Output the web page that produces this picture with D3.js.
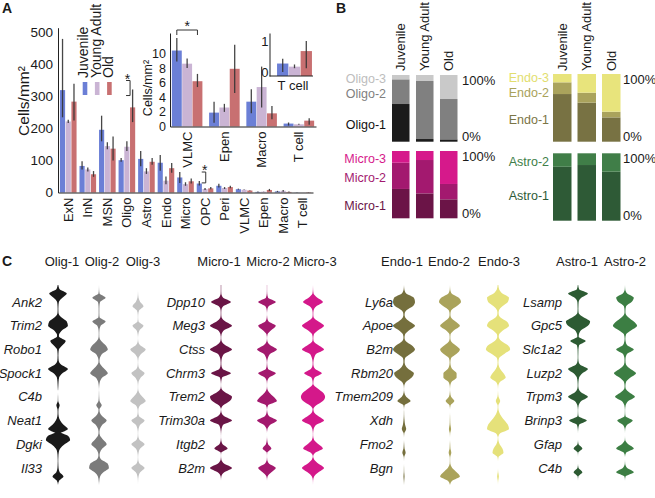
<!DOCTYPE html>
<html><head><meta charset="utf-8">
<script src="https://cdn.jsdelivr.net/npm/d3@7/dist/d3.min.js"></script>
<style>
html,body{margin:0;padding:0;background:#fff;}
svg{display:block;font-family:"Liberation Sans",Arial,Helvetica,sans-serif;}
</style></head><body>
<svg id="fig" width="655" height="498"></svg>
<script>
// ================= DATA =================
// Panel A
const ageGroups = ["Juvenile", "Young Adult", "Old"];
const cellTypes = ["ExN","InN","MSN","Oligo","Astro","Endo","Micro","OPC","Peri","VLMC","Epen","Macro","T cell"];
const juvenileMean = [320, 83, 196, 101, 105, 93, 47, 28, 21, 10.4, 1.9, 3.4, 0.4];
const youngMean    = [222, 72, 145, 143, 66, 37, 26, 11, 14, 8.6, 2.6, 5.4, 0.3];
const oldMean      = [284, 57, 137, 266, 96, 76, 35, 13, 17, 6.2, 7.9, 1.8, 0.8];
const juvenileErr = [[235,480],[72,98],[160,240],[96,108],[82,130],[68,117],[30,64],[22,36],[16,27],[8.9,12.1],[0.5,3.4],[1.8,5.1],[0.13,0.55]];
const youngErr    = [[217,227],[66,78],[135,157],[130,160],[58,76],[26,50],[21,32],[8,14],[11,17],[8,9.3],[2,3.1],[2.6,8.2],[0.25,0.37]];
const oldErr      = [[225,340],[49,67],[100,175],[220,322],[87,108],[62,92],[28,44],[10,17],[13,21],[5.4,7.2],[4.6,11.2],[1,2.8],[0.25,1.12]];
const mainTicks  = [0,100,200,300,400,500];
const insetTypes = ["VLMC","Epen","Macro","T cell"];
const insetTicks = [0,2,4,6,8,10];
const tcellTicks = [0,1];

// Panel B (shares in %, per age group: Juvenile, Young Adult, Old)
const stackAges   = ["Juvenile","Young Adult","Old"];
const oligoTypes  = ["Oligo-1","Oligo-2","Oligo-3"];
const oligoShares = [[56.5,37,6.5],[4,87,9],[3.5,60.5,36]];
const microTypes  = ["Micro-1","Micro-2","Micro-3"];
const microShares = [[43.6,39,17.4],[37,49.6,13.4],[28.2,22.8,49]];
const endoTypes   = ["Endo-1","Endo-2","Endo-3"];
const endoShares  = [[70.4,17.3,12.3],[57.6,14.8,27.6],[35.9,8.4,55.7]];
const astroTypes  = ["Astro-1","Astro-2"];
const astroShares = [[80,20],[82.6,17.4],[72.7,27.3]];

// Panel C (violin density profiles, top -> bottom, 9 samples each)
const oligClusters = ["Olig-1","Olig-2","Olig-3"];
const oligGenes = ["Ank2","Trim2","Robo1","Spock1","C4b","Neat1","Dgki","Il33"];
const olig1Density = [
 [0.3,1.5,8,4,0.8,0.4,0.3,0.2,0.1],
 [0,0.3,3,8,9,4,1,0.3,0],
 [0.2,1,7,4,0.8,0.4,0.3,0.2,0.1],
 [0.1,0.5,3,9,4,1,0.5,0.3,0.1],
 [0,0,0,0,0.1,0.2,1.5,0.3,0],
 [0.1,0.2,0.3,0.6,2,5,9,2,0],
 [0,0.5,9,11,6,2,0.6,0.2,0],
 [0.1,0.15,0.2,0.3,0.5,1.5,5,1,0]];
const olig2Density = [
 [0,0.1,0.5,6,1,0.4,0.3,0.2,0.1],
 [0,0.1,0.5,6,1.5,0.4,0.2,0.1,0],
 [0,0.2,2,6,8,3,0.8,0.2,0],
 [0,0.1,1.5,5,8,3,0.8,0.2,0],
 [0,0,0,0.1,0.2,0.5,2.5,0.2,0],
 [0,0.2,0.6,3,7,3,0.8,0.2,0],
 [0,0.1,1,4,7,3,0.8,0.2,0],
 [0,0.3,2,8,9,4,1,0.3,0]];
const olig3Density = [
 [0,0,0.1,0.5,2,5,1,0.2,0],
 [0,0,0.1,0.5,5,1.5,0.3,0,0],
 [0,0,0.2,2,7,3,0.5,0.1,0],
 [0,0,0.2,1.5,6,2.5,0.5,0.1,0],
 [0,0,0.1,1,4,7,2,0.3,0],
 [0,0,0.2,1,6,2,0.5,0.1,0],
 [0,0,0.2,1.5,6,2,0.5,0.1,0],
 [0,0,0.2,1.5,6,2,0.5,0.1,0]];
const microClusters = ["Micro-1","Micro-2","Micro-3"];
const microGenes = ["Dpp10","Meg3","Ctss","Chrm3","Trem2","Trim30a","Itgb2","B2m"];
const micro1Density = [
 [0.2,0.2,0.3,2,9,2,0.3,0.1,0],
 [0,0.1,0.5,4,10,3,0.5,0,0],
 [0,0.1,0.5,4,10,3,0.8,0.2,0],
 [0,0.1,0.3,1.5,9,1,0.2,0,0],
 [0,0,0.3,4,10,8,2,0,0],
 [0,0,0.3,3,10,2,0.5,0.1,0],
 [0,0,0,0.2,1.5,6,0.2,0,0],
 [0,0,0.3,3,10,3,0.3,0,0]];
const micro2Density = [
 [0.1,0.1,0.2,1,8,1.5,0.2,0,0],
 [0,0,0.2,1.5,8,4,0.5,0,0],
 [0,0,0.3,3,9,3,0.8,0.1,0],
 [0,0,0.2,1,8,2,0.2,0,0],
 [0,0,0.2,2,6,9,1,0,0],
 [0,0,0.3,2,9,3,0.4,0,0],
 [0,0,0,0.2,1,4,0.2,0,0],
 [0,0,0.2,2,8,4,0.5,0,0]];
const micro3Density = [
 [0,0.1,0.5,4,9,3,0.5,0.1,0],
 [0,0.1,0.5,5,10,5,0.8,0.1,0],
 [0,0.1,0.5,5,10,3,1,0.3,0],
 [0,0,0.3,2,8,1.5,0.3,0,0],
 [0,0.2,4,9,11,9,3,0,0],
 [0,0.2,0.8,5,10,3,0.6,0.1,0],
 [0,0,0.1,1,5,9,2,0,0],
 [0,0,1,5,10,5,1,0.1,0]];
const endoClusters = ["Endo-1","Endo-2","Endo-3"];
const endoGenes = ["Ly6a","Apoe","B2m","Rbm20","Tmem209","Xdh","Fmo2","Bgn"];
const endo1Density = [
 [0,0.3,2,9,10,8,2,0.3,0],
 [0,0.2,1,5,10,5,1,0.2,0],
 [0,0.2,1.5,7,10,6,1,0.2,0],
 [0.1,0.3,1,4,9,7,2,0.2,0],
 [0,0,0,0.3,2,6,0.5,0,0],
 [0,0,0.1,0.2,0.5,1,2,0.3,0],
 [0,0,0,0,0.2,0.5,1.5,0.2,0],
 [0,0,0,0,0.1,0.2,0.5,0.2,0]];
const endo2Density = [
 [0,0.2,1.5,8,10,6,1,0.2,0],
 [0,0.1,0.8,5,9,4,0.5,0.1,0],
 [0,0.1,0.8,5,9,6,1,0.2,0],
 [0,0.1,0.5,2,6,6,1.5,0.2,0],
 [0,0,0,0.2,1,4,0.5,0,0],
 [0,0,0,0.1,0.2,0.4,1,0.2,0],
 [0,0,0,0,0.2,0.4,1.2,0.2,0],
 [0,0,0.1,0.3,2,6,9,2,0]];
const endo3Density = [
 [0.3,1,4,10,9,4,0.8,0.2,0],
 [0,0.3,2,8,10,5,1,0.2,0],
 [0,0.5,3,9,11,6,1,0.2,0],
 [0,0.1,0.5,2,5,7,2,0.2,0],
 [0,0,0,0.1,0.5,2,0.3,0,0],
 [0,0.2,1,3,6,9,10,2,0],
 [0,0,0.1,0.3,1.5,4,5,0.5,0],
 [0,0,0,0,0,0.2,0.8,0.2,0]];
const astroClusters = ["Astro-1","Astro-2"];
const astroGenes = ["Lsamp","Gpc5","Slc1a2","Luzp2","Trpm3","Brinp3","Gfap","C4b"];
const astro1Density = [
 [0.2,1,9,3,0.6,0.4,0.3,0.2,0.1],
 [0,0.5,5,11,9,3,0.8,0.2,0],
 [0.1,0.5,7,1,0.4,0.3,0.2,0.1,0],
 [0,0.3,2,9,4,1,0.4,0.1,0],
 [0,0.1,0.5,3,9,3,0.6,0.1,0],
 [0,0,0.1,0.5,8,1,0.2,0,0],
 [0,0,0,0,0.5,4,0.2,0,0],
 [0,0,0,0,0.5,4,0.3,0,0]];
const astro2Density = [
 [0,0.2,2,8,6,1,0.4,0.2,0.1],
 [0,0.3,3,8,11,6,1,0.2,0],
 [0,0.1,0.5,2,8,2,0.5,0.2,0.1],
 [0,0.2,1,5,10,5,1,0.2,0],
 [0,0.1,0.5,4,9,3,0.6,0.1,0],
 [0,0,0.1,0.5,7,2,0.2,0,0],
 [0,0,0,0.2,3,8,1,0,0],
 [0,0,0,0.2,2,8,0.5,0,0]];

// ================= DRAW =================
const svg = d3.select("#fig");
const TXT = "#1a1a1a";
const ageColors = {"Juvenile":"#6b7fd6","Young Adult":"#cab4d4","Old":"#c87071"};

function panelLabel(t, x, y){
  svg.append("text").attr("x",x).attr("y",y).attr("font-size",14).attr("font-weight","bold").attr("fill",TXT).text(t);
}
panelLabel("A",2,13); panelLabel("B",336,13); panelLabel("C",2,266);

function styleAxis(g, fs){
  g.attr("font-family",null).attr("font-size",fs);
  g.select(".domain").attr("stroke","#222").attr("stroke-width",1);
  g.selectAll("text").attr("fill",TXT);
}

function drawBars(g, types, x, x1, y, errW){
  const data = types.map(t => {
    const i = cellTypes.indexOf(t);
    return {type:t, vals: ageGroups.map((a,j)=>({
      age:a,
      v:[juvenileMean,youngMean,oldMean][j][i],
      lo:[juvenileErr,youngErr,oldErr][j][i][0],
      hi:[juvenileErr,youngErr,oldErr][j][i][1]}))};
  });
  const grp = g.append("g").selectAll("g").data(data).join("g")
    .attr("transform", d=>`translate(${x(d.type)},0)`);
  grp.selectAll("rect").data(d=>d.vals).join("rect")
    .attr("x", d=>x1(d.age)).attr("width", x1.bandwidth())
    .attr("y", d=>y(d.v)).attr("height", d=>Math.max(0,y(0)-y(d.v)))
    .attr("fill", d=>ageColors[d.age]);
  grp.selectAll("line").data(d=>d.vals).join("line")
    .attr("x1", d=>x1(d.age)+x1.bandwidth()/2).attr("x2", d=>x1(d.age)+x1.bandwidth()/2)
    .attr("y1", d=>y(d.hi)).attr("y2", d=>y(d.lo))
    .attr("stroke","#333").attr("stroke-opacity",0.9).attr("stroke-width",errW);
}

// ---- main bar chart
const gA = svg.append("g");
const xMain = d3.scaleBand().domain(cellTypes).range([58,313]).paddingInner(0.15).paddingOuter(0.1);
const x1Main = d3.scaleBand().domain(ageGroups).range([0,xMain.bandwidth()]).paddingInner(0.1);
const yMain = d3.scaleLinear().domain([0,515]).range([192.5,27.7]);
drawBars(gA, cellTypes, xMain, x1Main, yMain, 1.3);
const yAx = gA.append("g").attr("transform","translate(58,0)")
  .call(d3.axisLeft(yMain).tickValues(mainTicks).tickSize(0).tickSizeOuter(0).tickPadding(5));
styleAxis(yAx, 13.5);
const xAx = gA.append("g").attr("transform","translate(0,192.5)")
  .call(d3.axisBottom(xMain).tickSize(0).tickSizeOuter(0));
styleAxis(xAx, 13);
xAx.selectAll(".tick text").attr("transform","rotate(-90)").attr("text-anchor","end")
  .attr("x",-5).attr("y",0).attr("dy","0.35em");
gA.append("text").attr("transform","translate(24,101) rotate(-90)").attr("text-anchor","middle")
  .attr("dy","0.35em").attr("font-size",15.5).attr("fill",TXT).text("Cells/mm²");

// legend
ageGroups.forEach((a,i)=>{
  const cx = 85 + i*12.2;
  gA.append("rect").attr("x",cx-2.3).attr("y",82).attr("width",4.6).attr("height",13).attr("fill",ageColors[a]);
  gA.append("text").attr("transform",`translate(${cx-1.5},78) rotate(-90)`).attr("dy","0.35em")
    .attr("font-size",14).attr("fill",TXT).text(a);
});

// significance markers in main chart
function vBracket(x, y1, y2, sx, sy){
  gA.append("path").attr("d",`M${x-4},${y1}H${x}V${y2}H${x-4}`).attr("fill","none").attr("stroke","#333").attr("stroke-width",1);
  gA.append("text").attr("x",sx).attr("y",sy).attr("text-anchor","middle").attr("dy","0.7em").attr("font-size",14).attr("fill",TXT).text("*");
}
{
  const ox = xMain("Oligo");
  vBracket(ox+11.5, yMain(350), yMain(303), ox+9, yMain(370));
  const px = xMain("OPC");
  vBracket(px+9, yMain(64), yMain(30), px+8, yMain(84));
}

// ---- inset
const gI = svg.append("g");
const xIn = d3.scaleBand().domain(insetTypes).range([170,316]).paddingInner(0.18).paddingOuter(0.05);
const x1In = d3.scaleBand().domain(ageGroups).range([0,xIn.bandwidth()]).paddingInner(0.04);
const yIn = d3.scaleLinear().domain([0,12.8]).range([126.5,33]);
drawBars(gI, insetTypes, xIn, x1In, yIn, 1.3);
const yAxI = gI.append("g").attr("transform","translate(170,0)")
  .call(d3.axisLeft(yIn).tickValues(insetTicks).tickSize(0).tickSizeOuter(0).tickPadding(4));
styleAxis(yAxI, 12.5);
const xAxI = gI.append("g").attr("transform","translate(0,126.5)")
  .call(d3.axisBottom(xIn).tickSize(0).tickSizeOuter(0));
styleAxis(xAxI, 13);
xAxI.selectAll(".tick text").attr("transform","rotate(-90)").attr("text-anchor","end")
  .attr("x",-5).attr("y",0).attr("dy","0.35em");
gI.append("text").attr("transform","translate(148,88) rotate(-90)").attr("text-anchor","middle")
  .attr("dy","0.35em").attr("font-size",12.5).attr("fill",TXT).text("Cells/mm²");
{
  const vx = xIn("VLMC");
  const xa = vx + x1In("Juvenile") + x1In.bandwidth()/2, xb = vx + x1In("Old") + x1In.bandwidth()/2;
  gI.append("path").attr("d",`M${xa},${35}V${30}H${xb}V${35}`).attr("fill","none").attr("stroke","#333").attr("stroke-width",1);
  gI.append("text").attr("x",(xa+xb)/2).attr("y",21).attr("text-anchor","middle").attr("dy","0.7em").attr("font-size",14).attr("fill",TXT).text("*");
}

// ---- T cell sub-inset
const gT = svg.append("g");
const xT = d3.scaleBand().domain(["T cell"]).range([276,313]).paddingOuter(0.03);
const x1T = d3.scaleBand().domain(ageGroups).range([0,xT.bandwidth()]).paddingInner(0.04);
const yT = d3.scaleLinear().domain([0,1.38]).range([76,33]);
drawBars(gT, ["T cell"], xT, x1T, yT, 1.3);
const yAxT = gT.append("g").attr("transform","translate(269.5,0)")
  .call(d3.axisLeft(yT).tickValues(tcellTicks).tickFormat(d3.format("d")).tickSize(0).tickSizeOuter(0).tickPadding(1));
styleAxis(yAxT, 13);
yAxT.selectAll(".tick text").attr("dy","0.05em");
gT.append("line").attr("x1",269.5).attr("x2",313).attr("y1",76).attr("y2",76).attr("stroke","#222");
gT.append("text").attr("x",293).attr("y",85).attr("dy","0.35em").attr("text-anchor","middle").attr("font-size",13).attr("fill",TXT).text("T cell");

// ================= PANEL B =================
function stackBlock(types, shares, colors, labelColors, xCols, top, bottom, labelX, pctX){
  const g = svg.append("g");
  const y = d3.scaleLinear().domain([0,100]).range([bottom, top]);
  const rows = stackAges.map((a,i)=>{ const o={age:a}; types.forEach((t,j)=>o[t]=shares[i][j]); return o; });
  const series = d3.stack().keys(types)(rows);
  const labelY = [];
  const GAP = 14.6;
  series.forEach((s,j)=>{
    g.selectAll(null).data(s).join("rect")
      .attr("x", d=>xCols(d.data.age)).attr("width", xCols.bandwidth())
      .attr("y", d=>y(d[1])).attr("height", d=>y(d[0])-y(d[1]))
      .attr("fill", colors[j]);
    const juv = s[0];
    let ly = (y(juv[0])+y(juv[1]))/2 + 2;
    if (j > 0 && labelY[j-1] - ly < GAP) {
      const shift = (GAP - (labelY[j-1] - ly)) / 2;
      labelY[j-1] += shift;
      ly = labelY[j-1] - GAP;
    }
    labelY.push(ly);
  });
  types.forEach((t,j)=>{
    g.append("text").attr("x",labelX).attr("y",labelY[j]).attr("dy","0.35em")
      .attr("text-anchor","end").attr("font-size",12.5).attr("fill",labelColors[j]).text(t);
  });
  g.append("text").attr("x",pctX).attr("y",y(100)+5.5).attr("dy","0.35em").attr("font-size",13).attr("fill",TXT).text("100%");
  g.append("text").attr("x",pctX).attr("y",y(0)-5).attr("dy","0.35em").attr("font-size",13).attr("fill",TXT).text("0%");
}
const xColL = d3.scaleBand().domain(stackAges).range([392,457.5]).paddingInner(0.27).paddingOuter(0);
const xColR = d3.scaleBand().domain(stackAges).range([553,620.5]).paddingInner(0.245).paddingOuter(0);
[xColL, xColR].forEach(sc=>{
  stackAges.forEach(a=>{
    svg.append("text").attr("transform",`translate(${sc(a)+sc.bandwidth()/2},71) rotate(-90)`)
      .attr("dy","0.35em").attr("font-size",13).attr("fill",TXT).text(a);
  });
});
stackBlock(oligoTypes, oligoShares, ["#1b1b1b","#808080","#c9c9c9"], ["#111111","#7f7f7f","#bdbdbd"], xColL, 75, 141.7, 386, 462);
stackBlock(microTypes, microShares, ["#6b1447","#a3196f","#d6198b"], ["#6b1447","#a3196f","#d6198b"], xColL, 151, 218.3, 386, 462);
stackBlock(endoTypes, endoShares, ["#787243","#aaa35c","#e8e47c"], ["#7b7546","#a9a25a","#e2de6e"], xColR, 74, 141.7, 549, 623);
stackBlock(astroTypes, astroShares, ["#2e5a36","#407e48"], ["#2e5a36","#407e48"], xColR, 153.3, 220.7, 549, 623);

// ================= PANEL C =================
const rowY = d3.scalePoint().domain(d3.range(8)).range([302, 468]);
const sampleY = d3.scaleLinear().domain([0,8]).range([-17,17]);
const halfW = d3.scaleLinear().domain([0,10]).range([0,11]);
const violin = d3.area().y((d,i)=>sampleY(i)).x0(d=>-halfW(d)).x1(d=>halfW(d)).curve(d3.curveMonotoneY);

function violinGroup(genes, clusters, densities, colors, violinX, headerX, labelX){
  const g = svg.append("g");
  clusters.forEach((c,k)=>{
    g.append("text").attr("x",headerX[k]).attr("y",261).attr("dy","0.35em").attr("text-anchor","middle")
      .attr("font-size",13).attr("fill",TXT).text(c);
    g.selectAll(null).data(densities[k]).join("path")
      .attr("transform",(d,i)=>`translate(${violinX[k]},${rowY(i)})`)
      .attr("d", violin).attr("fill", colors[k]);
  });
  g.selectAll(null).data(genes).join("text")
    .attr("x",labelX).attr("y",(d,i)=>rowY(i)).attr("dy","0.35em").attr("text-anchor","end")
    .attr("font-size",13).attr("font-style","italic").attr("fill",TXT).text(d=>d);
}
violinGroup(oligGenes, oligClusters, [olig1Density,olig2Density,olig3Density], ["#1a1a1a","#7b7b7b","#c2c2c2"], [58,99,138], [62,102,143], 42);
violinGroup(microGenes, microClusters, [micro1Density,micro2Density,micro3Density], ["#6a1546","#a3196e","#d4188a"], [221,267,313], [219,268,315], 205);
violinGroup(endoGenes, endoClusters, [endo1Density,endo2Density,endo3Density], ["#756f3d","#aaa35b","#e5e17a"], [404,450,498], [402,449,499], 393);
violinGroup(astroGenes, astroClusters, [astro1Density,astro2Density], ["#2d5b33","#3c7e43"], [578,625], [577,625], 562);
</script>
</body></html>
